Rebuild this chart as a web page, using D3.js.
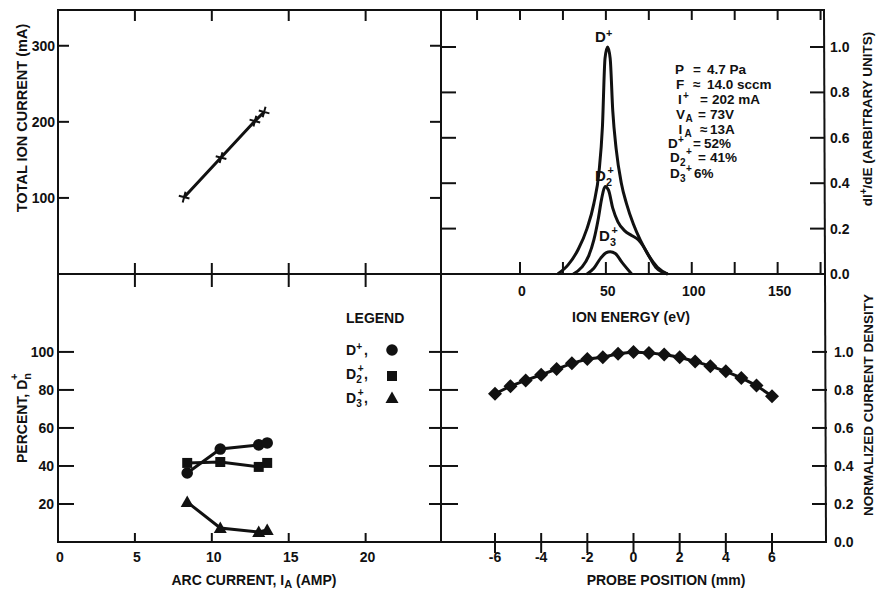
<!DOCTYPE html>
<html><head><meta charset="utf-8">
<script src="https://cdn.jsdelivr.net/npm/d3@7"></script>
<style>
body{margin:0;background:#fff}
text{font-family:"Liberation Sans",Arial,Helvetica,sans-serif;font-weight:bold;fill:#111}
</style></head><body>
<svg id="c" width="877" height="591"></svg>
<script>
// ---------- DATA ----------
// Panel A: total ion current vs arc current
const arcCurrentA = [8.2, 10.6, 12.8, 13.4];
const totalIonCurrent = [101, 153, 201, 213];
const ionCurrentTicks = [100, 200, 300];
const arcTicks = [0, 5, 10, 15, 20];

// Panel B: energy distributions dI+/dE
const energyD1 = [22, 28, 34, 39, 43, 46, 48, 49.5, 51, 52.5, 54, 56, 59, 62, 66, 70, 75, 80, 86];
const signalD1 = [0, 0.04, 0.11, 0.2, 0.31, 0.45, 0.65, 0.95, 1.0, 0.95, 0.72, 0.55, 0.40, 0.31, 0.22, 0.15, 0.08, 0.03, 0];
const energyD2 = [31, 36, 40, 43, 45.5, 47.5, 49.5, 51.5, 54, 57, 61, 65, 69, 72, 75, 79, 86];
const signalD2 = [0, 0.03, 0.08, 0.15, 0.24, 0.33, 0.385, 0.37, 0.29, 0.23, 0.19, 0.17, 0.15, 0.12, 0.08, 0.03, 0];
const energyD3 = [39, 43, 47, 50, 52.5, 55.5, 59.5, 65];
const signalD3 = [0, 0.025, 0.07, 0.093, 0.098, 0.09, 0.05, 0];
const energyTickLabels = [0, 50, 100, 150];
const energyMinorTicks = [-25, 0, 25, 50, 75, 100, 125, 150, 175];
const signalTicks = [0.0, 0.2, 0.4, 0.6, 0.8, 1.0];

// Panel C: percent of species vs arc current
const arcCurrentC = [8.4, 10.55, 13.05, 13.6];
const pctD1 = [36.3, 48.9, 51.1, 52.1];
const pctD2 = [41.6, 42.1, 39.5, 41.6];
const pctD3 = [21.0, 7.4, 5.3, 6.3];
const pctTicks = [20, 40, 60, 80, 100];

// Panel D: normalized current density vs probe position
const probePos = [-6, -5.33, -4.67, -4, -3.33, -2.67, -2, -1.33, -0.67, 0, 0.67, 1.33, 2, 2.67, 3.33, 4, 4.67, 5.33, 6];
const density = [0.78, 0.82, 0.85, 0.88, 0.91, 0.94, 0.963, 0.972, 0.99, 1.0, 0.995, 0.986, 0.972, 0.95, 0.925, 0.898, 0.863, 0.823, 0.767];
const probeTicks = [-6, -4, -2, 0, 2, 4, 6];
const densityTicks = [0.0, 0.2, 0.4, 0.6, 0.8, 1.0];

// ---------- LAYOUT ----------
const L = 58, M = 441, R = 824, R2 = 826, T = 10, MY = 274, B = 542;
const svg = d3.select("#c");
const FS = 14;

const xArc = d3.scaleLinear().domain([0, 24.9]).range([L, M]);
const yIon = d3.scaleLinear().domain([0, 347]).range([MY, T]);
const xE = d3.scaleLinear().domain([-46, 177]).range([M, R]);
const yS = d3.scaleLinear().domain([0, 1.163]).range([MY, T]);
const yPct = d3.scaleLinear().domain([0, 141]).range([B, MY]);
const xPos = d3.scaleLinear().domain([-8.34, 8.34]).range([M, R2]);
const yDen = d3.scaleLinear().domain([0, 1.41]).range([B, MY]);

const ink = "#111";
function line(x1, y1, x2, y2, w) {
  svg.append("line").attr("x1", x1).attr("y1", y1).attr("x2", x2).attr("y2", y2)
    .attr("stroke", ink).attr("stroke-width", w || 2).attr("stroke-linecap", "square");
}
function text(x, y, s, anchor, size, g) {
  return (g || svg).append("text").attr("x", x).attr("y", y).attr("text-anchor", anchor || "start")
    .attr("font-size", size || FS).text(s);
}
// D with subscript / superscript (small script glyphs)
function dLabel(x, y, sub, sup, size, tail) {
  size = size || FS;
  const ss = size * 0.72;
  text(x, y, "D", "start", size);
  const dx = x + size * 0.74;
  if (sub) text(dx, y + size * 0.3, sub, "start", ss);
  if (sup) text(dx + (sub ? 1.5 : 0), y - size * (sub ? 0.48 : 0.36), sup, "start", ss);
  if (tail) text(dx + size * 0.55, y, tail, "start", size);
}

// ---------- FRAME ----------
line(L, T, M, T);
line(M, T, R, T);
line(L, T, L, B);
line(M, T, M, B);
line(R, T, R2, B);
line(L, MY, R, MY);
line(L, B, R2, B);

// ---------- PANEL A ----------
[5, 10, 15, 20].forEach(v => {
  line(xArc(v), T, xArc(v), T + 10);
  line(xArc(v), MY - 10, xArc(v), MY + 12);
});
ionCurrentTicks.forEach(v => {
  line(L, yIon(v), L + 10, yIon(v));
  line(M - 10, yIon(v), M, yIon(v));
  text(L - 3, yIon(v) + 5, v, "end");
});
svg.append("path")
  .attr("d", d3.line().x((d, i) => xArc(arcCurrentA[i])).y(d => yIon(d))(totalIonCurrent))
  .attr("fill", "none").attr("stroke", ink).attr("stroke-width", 3);
totalIonCurrent.forEach((v, i) => {
  svg.append("path").attr("transform", `translate(${xArc(arcCurrentA[i])},${yIon(v)}) rotate(15)`)
    .attr("d", "M-5.5,0H5.5M0,-5.5V5.5").attr("stroke", ink).attr("stroke-width", 2);
});
svg.append("g").attr("transform", "translate(27,118) rotate(-90)")
  .append("text").attr("text-anchor", "middle").attr("font-size", 14.5).text("TOTAL ION CURRENT (mA)");

// ---------- PANEL B ----------
energyMinorTicks.forEach(v => {
  line(xE(v), T, xE(v), T + 9);
  if (v >= 0) line(xE(v), MY - 11, xE(v), MY);
});
energyTickLabels.forEach(v => text(xE(v) + 2, 296, v, "middle"));
signalTicks.filter(v => v > 0).forEach(v => {
  line(M, yS(v), M + 14, yS(v));
  line(R - 13, yS(v), R, yS(v));
});
signalTicks.forEach(v => text(R + 6, yS(v) + 5, v.toFixed(1), "start"));
const curve = d3.line().curve(d3.curveMonotoneX);
[[energyD1, signalD1], [energyD2, signalD2], [energyD3, signalD3]].forEach(([e, s]) => {
  svg.append("path").attr("d", curve(e.map((x, i) => [xE(x), yS(s[i])])))
    .attr("fill", "none").attr("stroke", ink).attr("stroke-width", 3).attr("stroke-linejoin", "round");
});
dLabel(595, 42, null, "+", 15);
dLabel(595, 181, "2", "+", 15);
dLabel(599, 241, "3", "+", 15);
// parameter block
const PF = 13.5, SF = 10;
text(675, 74, "P", "start", PF); text(693, 74, "=", "start", PF); text(707, 74, "4.7 Pa", "start", PF);
text(676, 89, "F", "start", PF); text(693, 89, "\u2248", "start", PF); text(707, 89, "14.0 sccm", "start", PF);
text(678, 104, "I", "start", PF); text(683, 99, "+", "start", SF); text(700, 104, "=", "start", PF); text(712, 104, "202 mA", "start", PF);
text(676, 119, "V", "start", PF); text(685.5, 122, "A", "start", SF); text(698, 119, "=", "start", PF); text(710, 119, "73V", "start", PF);
text(678.5, 134, "I", "start", PF); text(684.5, 137, "A", "start", SF); text(700, 134, "\u2248", "start", PF); text(710, 134, "13A", "start", PF);
text(668, 148, "D", "start", PF); text(678, 143, "+", "start", SF); text(693, 148, "=", "start", PF); text(704, 148, "52%", "start", PF);
text(670, 162, "D", "start", PF); text(680, 166, "2", "start", SF); text(686, 155, "+", "start", SF); text(698, 162, "=", "start", PF); text(710, 162, "41%", "start", PF);
text(670, 177.5, "D", "start", PF); text(680, 181.5, "3", "start", SF); text(686, 172, "+", "start", SF); text(694, 177.5, "6%", "start", PF);
text(631, 322, "ION ENERGY (eV)", "middle");
const rb = svg.append("g").attr("transform", "translate(872,119) rotate(-90)")
  .append("text").attr("text-anchor", "middle").attr("font-size", 13.5);
rb.append("tspan").text("dI");
rb.append("tspan").attr("dy", -5).attr("font-size", 10).text("+");
rb.append("tspan").attr("dy", 5).text("/dE (ARBITRARY UNITS)");

// ---------- PANEL C ----------
[5, 10, 15, 20].forEach(v => line(xArc(v), B - 8, xArc(v), B));
arcTicks.forEach(v => text(xArc(v) + 2, 562, v, "middle"));
pctTicks.forEach(v => {
  line(L, yPct(v), L + 15, yPct(v));
  line(M - 11, yPct(v), M, yPct(v));
  text(L - 4, yPct(v) + 5, v, "end");
});
const lineC = d3.line().x((d, i) => xArc(arcCurrentC[i])).y(d => yPct(d));
[pctD1, pctD2, pctD3].forEach(s => svg.append("path").attr("d", lineC(s))
  .attr("fill", "none").attr("stroke", ink).attr("stroke-width", 3));
const circ = "M5.8,0A5.8,5.8 0 1,1 -5.8,0A5.8,5.8 0 1,1 5.8,0Z";
const sq = "M-5,-5H5V5H-5Z";
const tri = "M0,-6.5L6.5,5L-6.5,5Z";
function marks(xs, ys, path) {
  ys.forEach((v, i) => svg.append("path").attr("d", path)
    .attr("transform", `translate(${xArc(xs[i])},${yPct(v)})`).attr("fill", ink));
}
marks(arcCurrentC, pctD1, circ);
marks(arcCurrentC, pctD2, sq);
marks(arcCurrentC, pctD3, tri);
text(346, 323, "LEGEND");
dLabel(346, 355, null, "+", 14, ",");
dLabel(346, 379, "2", "+", 14, ",");
dLabel(346, 403, "3", "+", 14, ",");
svg.append("path").attr("d", circ).attr("transform", "translate(392,350)").attr("fill", ink);
svg.append("path").attr("d", sq).attr("transform", "translate(392,376)").attr("fill", ink);
svg.append("path").attr("d", tri).attr("transform", "translate(392,398)").attr("fill", ink);
const pc = svg.append("g").attr("transform", "translate(27,418) rotate(-90)")
  .append("text").attr("text-anchor", "middle").attr("font-size", 14);
pc.append("tspan").text("PERCENT, D");
pc.append("tspan").attr("dy", 4).attr("font-size", 11).text("n");
pc.append("tspan").attr("dx", -7).attr("dy", -13).attr("font-size", 11).text("+");
const ac = svg.append("text").attr("x", 254).attr("y", 585).attr("text-anchor", "middle").attr("font-size", 14);
ac.append("tspan").text("ARC CURRENT, I");
ac.append("tspan").attr("dy", 3).attr("font-size", 11).text("A");
ac.append("tspan").attr("dy", -3).text(" (AMP)");

// ---------- PANEL D ----------
probeTicks.forEach(v => {
  line(xPos(v), B - 8, xPos(v), B + 10);
  text(xPos(v), 562, v, "middle");
});
densityTicks.filter(v => v > 0).forEach(v => {
  line(M, yDen(v), M + 16, yDen(v));
  line(R2 - 13, yDen(v), R2, yDen(v));
});
densityTicks.forEach(v => text(R2 + 8, yDen(v) + 5, v.toFixed(1), "start"));
svg.append("path")
  .attr("d", d3.line().x((d, i) => xPos(probePos[i])).y(d => yDen(d))(density))
  .attr("fill", "none").attr("stroke", ink).attr("stroke-width", 3);
density.forEach((v, i) => svg.append("path").attr("d", "M0,-7L7,0L0,7L-7,0Z")
  .attr("transform", `translate(${xPos(probePos[i])},${yDen(v)})`).attr("fill", ink));
text(666, 585, "PROBE POSITION (mm)", "middle");
svg.append("g").attr("transform", "translate(873,405) rotate(-90)")
  .append("text").attr("text-anchor", "middle").attr("font-size", 13.5).text("NORMALIZED CURRENT DENSITY");
</script>
</body></html>
